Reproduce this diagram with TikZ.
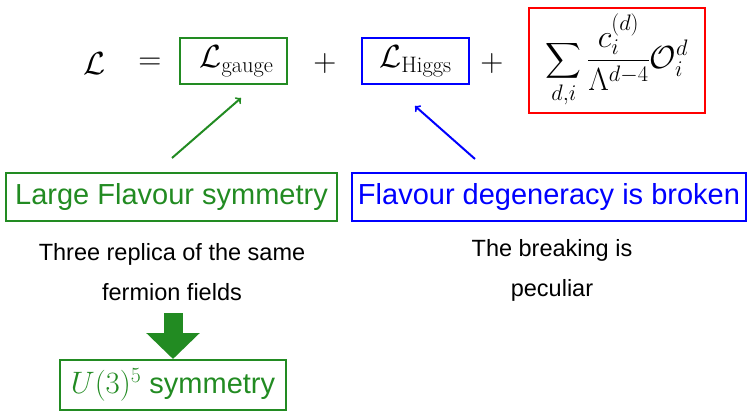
\RequirePackage{fix-cm}
\documentclass[tikz,border=0pt]{standalone}
\usepackage{amsmath}
\usepackage{fontspec}
\setsansfont{Liberation Sans}
\usetikzlibrary{arrows.meta}
\definecolor{fgreen}{RGB}{34,139,34}
\begin{document}
\begin{tikzpicture}[x=1pt,y=-1pt,
  mth/.style={font=\fontsize{32}{38}\selectfont, inner sep=0pt},
  eqbox/.style={draw=#1, line width=2pt, inner sep=0pt, minimum height=46pt},
  bigtxt/.style={font=\sffamily\fontsize{29}{34}\selectfont, inner sep=0pt},
  smalltxt/.style={font=\sffamily\fontsize{23.5}{40}\selectfont, align=center, inner sep=0pt},
  thinarrow/.style={draw=#1, line width=2pt, -to}
]
\useasboundingbox (0,0) rectangle (751,411);
% equation
\node[mth] (L) at (95,64) {$\mathcal{L}$};
\node[mth] (eq) at (150,64) {$=$};
\node[mth, eqbox=fgreen, minimum width=107pt] (gauge) at (233.5,61) {\hspace{6pt}$\mathcal{L}_{\mathrm{gauge}}$};
\node[mth] (p1) at (325,64) {$+$};
\node[mth, eqbox=blue, minimum width=107pt] (higgs) at (415.5,61) {$\mathcal{L}_{\mathrm{Higgs}}$\hspace{12pt}};
\node[mth] (p2) at (492,64) {$+$};
\node[mth, draw=red, line width=2pt, minimum width=176pt, minimum height=105pt] (ops) at (617,60.5)
  {$\displaystyle\sum_{d,i}\frac{c_i^{(d)}}{\Lambda^{d-4}}\mathcal{O}_i^d$};
% boxes
\node[bigtxt, draw=fgreen, text=fgreen, line width=2pt, minimum width=331pt, minimum height=48pt] (large) at (171.5,197) {Large Flavour symmetry};
\node[bigtxt, draw=blue, text=blue, line width=2pt, minimum width=394pt, minimum height=48pt] (broken) at (549,197) {Flavour degeneracy is broken};
% texts
\node[smalltxt] (three) at (172,272) {Three replica of the same\\fermion fields};
\node[smalltxt] (peculiar) at (552,270) {The breaking is\\peculiar};
\node[bigtxt, draw=fgreen, line width=2pt, minimum width=226pt, minimum height=50pt] (ubox) at (173,385)
  {\textcolor{fgreen}{\fontsize{31}{36}\selectfont$U(3)^5$\fontsize{29}{34}\selectfont\ symmetry}};
% arrows
\coordinate (gs) at (172,158);
\coordinate (ge) at (241,98);
\coordinate (bs) at (475,159);
\coordinate (be) at (415,106);
\draw[thinarrow=fgreen] (gs) -- (ge);
\draw[thinarrow=blue] (bs) -- (be);
\coordinate (ba) at (173,313);
\draw[fgreen, line width=19pt, -{Triangle[width=52pt,length=26pt]}] (ba) -- (ubox.north);
\end{tikzpicture}
\end{document}
